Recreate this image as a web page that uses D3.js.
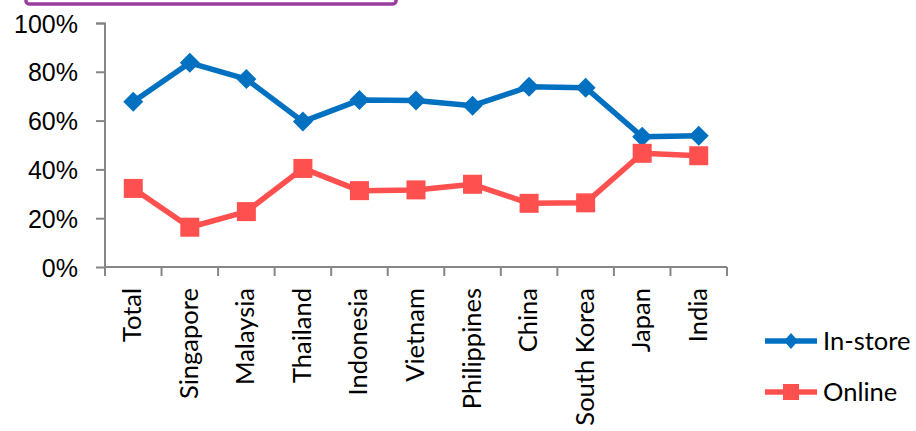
<!DOCTYPE html>
<html><head><meta charset="utf-8">
<script src="https://cdn.jsdelivr.net/npm/d3@7"></script>
<style>html,body{margin:0;padding:0;background:#fff;}svg{display:block;font-family:Lato,"Open Sans",sans-serif;}</style>
</head><body>
<svg id="chart" width="916" height="431"></svg>
<script>
const categories = ["Total","Singapore","Malaysia","Thailand","Indonesia","Vietnam","Philippines","China","South Korea","Japan","India"];
const inStore = [0.677, 0.837, 0.770, 0.596, 0.684, 0.682, 0.661, 0.739, 0.735, 0.534, 0.538];
const online  = [0.322, 0.163, 0.227, 0.404, 0.313, 0.316, 0.339, 0.261, 0.263, 0.466, 0.456];
const yTicks = [0, 0.2, 0.4, 0.6, 0.8, 1.0];
const seriesNames = ["In-store","Online"];
const seriesColors = ["#0070C0","#FF5050"];

const svg = d3.select("#chart");
const x = d3.scaleBand().domain(categories).range([105, 727]);
const y = d3.scaleLinear().domain([0, 1]).range([267, 23]);

// purple header box (partially cropped)
svg.append("rect").attr("x", 26).attr("y", -20).attr("width", 370).attr("height", 24)
  .attr("rx", 3).attr("fill", "#fff").attr("stroke", "#9a3d9e").attr("stroke-width", 3.5);

// y axis
const yAxis = svg.append("g").attr("transform", "translate(105,0)")
  .call(d3.axisLeft(y).tickValues(yTicks).tickFormat(d3.format(".0%")).tickSize(9).tickPadding(18));
yAxis.select(".domain").attr("stroke", "#868686").attr("stroke-width", 2).attr("d", "M-9,23.5H0V267");
yAxis.selectAll(".tick line").attr("stroke", "#868686").attr("stroke-width", 2);
yAxis.selectAll(".tick text").attr("fill", "#000").style("font-size", "25px").attr("dy", "0.36em");

// x axis
const xAxis = svg.append("g").attr("transform", "translate(0,267)")
  .call(d3.axisBottom(x).tickSize(0).tickFormat(""));
xAxis.select(".domain").attr("stroke", "#868686").attr("stroke-width", 2).attr("d", "M105,0H727");
xAxis.selectAll(".tick").remove();
const edges = categories.map(c => x(c)).concat([x.range()[1]]);
xAxis.selectAll("line.xt").data(edges).enter().append("line").attr("class", "xt")
  .attr("x1", d => d).attr("x2", d => d).attr("y1", 0).attr("y2", 9)
  .attr("stroke", "#868686").attr("stroke-width", 2);
svg.append("g").selectAll("text").data(categories).enter().append("text")
  .attr("transform", d => `translate(${x(d) + x.bandwidth() / 2 + 8},288) rotate(-90)`)
  .attr("text-anchor", "end").style("font-size", "25.5px").attr("fill", "#000").text(d => d);

const cx = d => x(d) + x.bandwidth() / 2;
const line = d3.line().x((d, i) => cx(categories[i])).y(d => y(d));
const data = [inStore, online];
data.forEach((vals, si) => {
  svg.append("path").datum(vals).attr("d", line).attr("fill", "none")
    .attr("stroke", seriesColors[si]).attr("stroke-width", 5.5).attr("stroke-linejoin", "round");
});
// diamonds
svg.append("g").selectAll("path").data(inStore).enter().append("path")
  .attr("d", (d, i) => { const X = cx(categories[i]), Y = y(d), r = 10; return `M${X},${Y - r}L${X + r},${Y}L${X},${Y + r}L${X - r},${Y}Z`; })
  .attr("fill", seriesColors[0]);
// squares
svg.append("g").selectAll("rect").data(online).enter().append("rect")
  .attr("x", (d, i) => cx(categories[i]) - 9.5).attr("y", d => y(d) - 9.5)
  .attr("width", 19).attr("height", 19).attr("fill", seriesColors[1]);

// legend
const lg = svg.append("g");
const ly = [341, 392];
seriesNames.forEach((n, i) => {
  lg.append("line").attr("x1", 765).attr("x2", 817).attr("y1", ly[i]).attr("y2", ly[i])
    .attr("stroke", seriesColors[i]).attr("stroke-width", 5.5);
  if (i === 0) {
    lg.append("path").attr("d", `M791,${ly[i] - 8}L798,${ly[i]}L791,${ly[i] + 8}L784,${ly[i]}Z`).attr("fill", seriesColors[i]);
  } else {
    lg.append("rect").attr("x", 783).attr("y", ly[i] - 8).attr("width", 16).attr("height", 16).attr("fill", seriesColors[i]);
  }
  lg.append("text").attr("x", 823).attr("y", ly[i]).attr("dy", "0.36em")
    .style("font-size", "25.5px").attr("fill", "#000").text(n);
});
</script>
</body></html>
